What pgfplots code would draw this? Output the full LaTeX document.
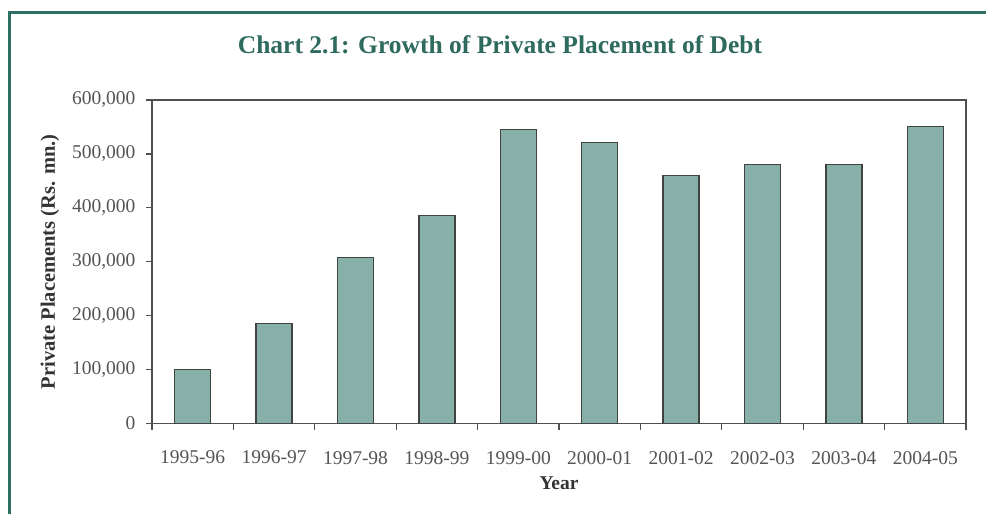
\documentclass[border=0pt]{standalone}
\usepackage{fontspec}
\setmainfont{Liberation Serif}
\usepackage{pgfplots}
\pgfplotsset{compat=1.18}
\definecolor{barfill}{HTML}{86B0A8}
\definecolor{baredge}{HTML}{3F4342}
\definecolor{framecol}{HTML}{2F6E62}
\definecolor{titlecol}{HTML}{2E6B5E}
\definecolor{axiscol}{HTML}{505050}
\definecolor{ticktext}{HTML}{555555}
\begin{document}
\begin{tikzpicture}
\useasboundingbox (0pt,0pt) rectangle (986pt,-514pt);
\fill[white] (0pt,0pt) rectangle (986pt,-514pt);
\draw[framecol, line width=3pt] (9pt,-514pt) -- (9pt,-12.5pt) -- (986pt,-12.5pt);
\begin{axis}[
  at={(152pt,-423.5pt)}, anchor=south west,
  scale only axis, width=814pt, height=323.5pt,
  xmin=-0.5, xmax=9.5, ymin=0, ymax=600000,
  ybar, bar width=36pt,
  axis line style={axiscol, line width=1.3pt},
  tick style={axiscol, line width=1.3pt},
  tick align=outside, tick pos=left,
  major tick length=6pt,
  xtick={-0.5,0.5,1.5,2.5,3.5,4.5,5.5,6.5,7.5,8.5,9.5},
  x tick label as interval,
  xticklabels={1995-96,1996-97,1997-98,1998-99,1999-00,2000-01,2001-02,2002-03,2003-04,2004-05},
  ytick={0,100000,200000,300000,400000,500000,600000},
  scaled y ticks=false,
  /pgf/number format/assume math mode=true,
  yticklabel style={/pgf/number format/fixed, /pgf/number format/1000 sep={,}, xshift=-7pt},
  xticklabel style={yshift=-18pt},
  ticklabel style={font=\fontsize{19.5}{20}\selectfont, text=ticktext},
  xlabel={Year},
  ylabel={Private Placements (Rs. mn.)},
  every axis x label/.style={at={(axis description cs:0.5,-0.184)}, anchor=center, font=\fontsize{19.5}{20}\selectfont\bfseries, text=black!80},
  every axis y label/.style={at={(axis description cs:-0.1253,0.5)}, rotate=90, anchor=center, font=\fontsize{20.5}{21}\selectfont\bfseries, text=black!80},
  title={Chart 2.1: Growth of Private Placement of Debt},
  every axis title/.style={at={(axis description cs:0.4275,1.170)}, anchor=center, font=\fontsize{25.5}{26}\selectfont\bfseries, text=titlecol},
]
\addplot[ybar, bar shift=0pt, fill=barfill, draw=baredge, line width=1.4pt] coordinates {
  (0,100000) (1,185000) (2,308000) (3,386000) (4,545000)
  (5,521000) (6,460000) (7,480000) (8,480000) (9,551000)
};
\end{axis}
\end{tikzpicture}
\end{document}
